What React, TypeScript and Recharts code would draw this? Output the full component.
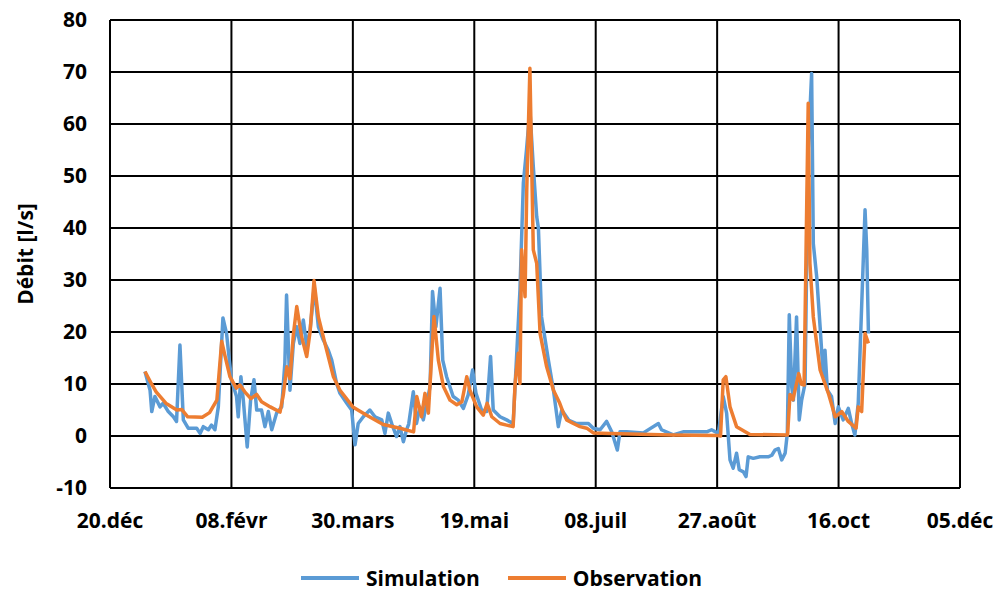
import { LineChart, Line, XAxis, YAxis, CartesianGrid, Legend } from "recharts";

// jours depuis le 20 déc.
const xTicks = [0, 50, 100, 150, 200, 250, 300, 350];
const xLabels = ["20.déc", "08.févr", "30.mars", "19.mai", "08.juil", "27.août", "16.oct", "05.déc"];
const yTicks = [-10, 0, 10, 20, 30, 40, 50, 60, 70, 80];
const seriesOrder = ["Simulation", "Observation"];

const simDays = [
  14.4, 16.5, 17.2, 18.5, 20.6, 21.9, 24, 26.1, 27.4, 28.8, 30.2, 32.2, 35.7, 37.1, 38.4, 40.5, 41.8, 43.2, 44.6,
  46.5, 48, 50, 52.1, 52.8, 53.9, 54.9, 56.5, 57.9, 59.3, 60.4, 62.4, 63.8, 65.2, 66.6, 68.6, 70.7, 72, 72.7,
  74.1, 75.5, 76.9, 78.2, 79.6, 81, 82.4, 84.1, 85.8, 87.8, 89.9, 91.3, 93.3, 94.7, 97.5, 99.5, 100.9, 102.2,
  104.3, 107, 109.1, 111.9, 113.2, 114.6, 116, 118, 119.4, 120.8, 122.1, 123, 124.9, 126.2, 127.6, 129, 130.4,
  131.8, 132.8, 134.2, 135.9, 137, 138.6, 141.3, 143.4, 145.5, 147.5, 149.3, 150.7, 153, 155.1, 156.7, 157.8,
  160.6, 163.3, 166, 167.7, 168.8, 170.2, 171.5, 172.9, 174.3, 175.7, 176.4, 177.7, 180.5, 182.6, 184.6, 186,
  189, 192.1, 197, 199, 201.8, 204.5, 206.6, 208.9, 210, 212.7, 219.6, 225.8, 227.1, 231.9, 236, 240.1, 245.7,
  247.7, 250.5, 252.5, 253.9, 255.3, 256.6, 258, 259.1, 260.8, 261.9, 262.8, 264.9, 267.6, 271, 272.5, 273.8,
  275.2, 276.6, 278, 278.9, 279.7, 280.7, 281.4, 282.7, 283.8, 284.8, 286.2, 287.5, 288.9, 289.6, 291, 292.4,
  293.7, 294.4, 295.4, 297.1, 298.6, 299.9, 301.9, 304, 305.4, 306.7, 308.1, 310.9, 311.6, 312.3,
];
const simValues = [
  12.4, 8.8, 4.7, 7.6, 5.6, 6.3, 4.7, 3.7, 2.8, 17.5, 3.1, 1.5, 1.5, 0.5, 1.8, 1.2, 2.1, 1.2, 5.6,
  22.7, 19.7, 10.8, 7.6, 3.7, 11.4, 6.9, -2.1, 6.9, 10.8, 5.0, 5.0, 1.8, 4.7, 1.2, 4.4, 5.6, 14, 27.1,
  8.8, 17.8, 21, 17.8, 22.3, 17.2, 20.4, 28.7, 21, 18.5, 16.5, 14.6, 10.1, 8.2, 6.3, 5, -1.7, 2.4,
  3.7, 5, 3.7, 3.1, 0.5, 4.4, 2.4, -0.1, 1.8, -1.1, 1.2, 2.3, 8.5, 2.4, 5.6, 3.1, 6.3,
  9.5, 27.8, 21, 28.4, 14.6, 11.4, 7.6, 6.9, 5.3, 7.9, 12.7, 8.2, 5, 4.7, 15.3, 5,
  3.7, 3.1, 2.4, 17.8, 28, 48.6, 55, 62.7, 51.8, 42.2, 40, 22.9, 14.6, 8.8, 1.8, 5,
  3, 2.4, 2.4, 1.5, 1.2, 2.8, 0.8, -2.7, 0.8, 0.8, 0.6, 2.4, 1.2, 0.2, 0.8, 0.8, 0.8,
  1.2, 0.5, 7.6, 4.4, -4.6, -6.2, -3.3, -6.5, -6.9, -7.8, -4, -4.3, -4, -4, -3.7, -2.7,
  -2.4, -4.6, -3.3, 0.5, 23.3, 9.5, 6.9, 22.9, 3.1, 6.9, 10.1, 55, 69.7, 37, 30.6, 21,
  11.4, 16.5, 8.8, 7.6, 2.4, 5.6, 3.1, 5.3, 2.4, 0.2, 6.3, 43.5, 35.8, 19.7,
];

const obsDays = [
  14.4, 17, 19, 23, 27.5, 29.5, 32, 38, 41, 44, 46, 47.4, 49.4, 52, 53.5, 55.5, 58, 60.4, 62.4, 66, 70, 71.4,
  72.8, 74.1, 75.5, 76.9, 78.9, 81, 82.4, 84, 85.8, 88.5, 92, 94.7, 100, 105.7, 112.5, 119.4, 125, 126.3, 128.3,
  129.7, 131.1, 133.4, 135.2, 137.3, 140, 142.8, 144.9, 146.9, 148.2, 151, 153.7, 155.3, 157.2, 160.6, 163.3,
  166, 166.8, 168.1, 168.8, 169.5, 170.9, 171.6, 172.9, 174.3, 175.7, 177.1, 179.8, 182.6, 185, 186.7, 188,
  190.8, 193.5, 196.3, 199, 206, 231, 250.5, 251.4, 252.5, 253.6, 255.3, 258, 263.5, 279, 280, 281.2, 282.4,
  283.6, 284.6, 285.8, 287.5, 288.2, 289.6, 292.4, 295.8, 298.6, 301.3, 304, 307.2, 308.1, 309.5, 310.9, 312.3,
];
const obsValues = [
  12.4, 10.1, 8.5, 6.3, 5.0, 5.1, 3.7, 3.6, 4.5, 6.9, 18.2, 15.3, 11.4, 9.2, 9.8, 8.5, 7.2, 8.0, 6.6, 5.6, 4.6, 8.0,
  13.3, 11.0, 19.5, 24.9, 19.1, 15.3, 20.1, 29.9, 22.9, 17.8, 11.4, 8.8, 5.6, 4.0, 2.2, 1.5, 0.8, 7.6, 3.7,
  8.2, 4.4, 23, 14.6, 9.5, 6.9, 6.0, 6.6, 11.4, 8.8, 5.6, 4.0, 6.3, 3.7, 2.4, 2.1,
  1.8, 10.1, 15.9, 10.1, 35.8, 26.8, 47.3, 70.7, 35.8, 33.2, 19.7, 13.3, 8.8, 6.5, 4.4, 3.1,
  2.4, 1.8, 1.5, 0.6, 0.5, 0.2, 0.1, 0, 10.8, 11.4, 5.6, 1.8, 0.3, 0.2, 8.0, 7.0, 9.5,
  12.0, 10.0, 9.8, 64, 33.2, 22.9, 12.7, 8.2, 3.7, 4.7, 2.8, 1.5, 5.6, 4.7, 19.7, 17.8,
];

const simulation = simDays.map((day, i) => ({ day, value: simValues[i] }));
const observation = obsDays.map((day, i) => ({ day, value: obsValues[i] }));

const font = "'Open Sans', 'Liberation Sans', sans-serif";
const tickStyle = { fill: "#000", fontSize: 21, fontWeight: 700, fontFamily: font };

function YLabel({ viewBox }: any) {
  const x = viewBox.x + 25;
  const y = viewBox.y + viewBox.height / 2;
  return (
    <text
      x={x}
      y={y}
      transform={`rotate(-90, ${x}, ${y})`}
      textAnchor="middle"
      dominantBaseline="central"
      fill="#000"
      fontSize={21}
      fontWeight={700}
      fontFamily={font}
    >
      Débit [l/s]
    </text>
  );
}

function LegendContent({ payload }: any) {
  const items = [...(payload || [])].sort(
    (a: any, b: any) => seriesOrder.indexOf(a.value) - seriesOrder.indexOf(b.value)
  );
  return (
    <div style={{ display: "flex", justifyContent: "center", gap: 28, fontFamily: font }}>
      {items.map((p: any) => (
        <div key={p.value} style={{ display: "flex", alignItems: "center", height: 30 }}>
          <div style={{ width: 58, height: 4, background: p.color, marginRight: 7 }} />
          <span style={{ fontSize: 21, fontWeight: 700, color: "#000" }}>{p.value}</span>
        </div>
      ))}
    </div>
  );
}

export default function App() {
  return (
    <div style={{ position: "absolute", left: 0, top: 0, background: "#fff" }}>
      <LineChart width={1003} height={591} margin={{ top: 20, right: 43, left: 0, bottom: 53 }}>
        <CartesianGrid stroke="#000" strokeWidth={2} />
        <XAxis
          type="number"
          dataKey="day"
          domain={[0, 350]}
          ticks={xTicks}
          tickFormatter={(v: number) => xLabels[xTicks.indexOf(v)]}
          height={50}
          tickLine={false}
          tickMargin={19}
          axisLine={{ stroke: "#000", strokeWidth: 2 }}
          tick={tickStyle}
          interval={0}
        />
        <YAxis
          type="number"
          domain={[-10, 80]}
          ticks={yTicks}
          width={110}
          tickLine={false}
          tickMargin={17}
          axisLine={{ stroke: "#000", strokeWidth: 2 }}
          tick={tickStyle}
          interval={0}
          label={<YLabel />}
        />
        <Legend
          layout="horizontal"
          verticalAlign="middle"
          align="center"
          wrapperStyle={{ top: 563, left: 0, width: 1003 }}
          content={<LegendContent />}
        />
        <Line
          data={simulation}
          dataKey="value"
          name="Simulation"
          stroke="#5B9BD5"
          strokeWidth={3.5}
          strokeLinejoin="round"
          dot={false}
          isAnimationActive={false}
        />
        <Line
          data={observation}
          dataKey="value"
          name="Observation"
          stroke="#ED7D31"
          strokeWidth={3.5}
          strokeLinejoin="round"
          dot={false}
          isAnimationActive={false}
        />
      </LineChart>
    </div>
  );
}
